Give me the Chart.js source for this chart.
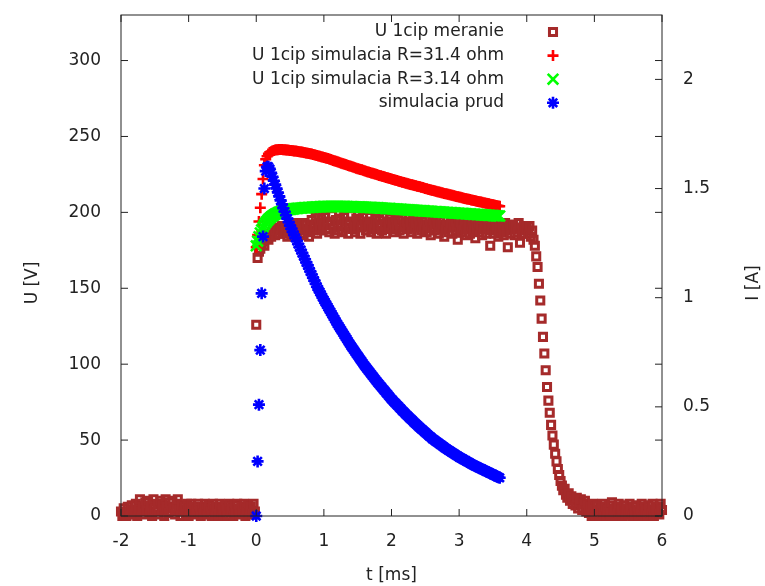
<!DOCTYPE html>
<html>
<head>
<meta charset="utf-8">
<script src="https://cdn.jsdelivr.net/npm/chart.js@4.4.0/dist/chart.umd.min.js"></script>
<style>
  body { margin: 0; background: #fff; }
</style>
</head>
<body>
<canvas id="myChart" width="765" height="586"></canvas>
<script>
// sampling grid [ms]
let measStart = -2, measStep = 0.02;
let simStart = 0, simStep = 0.02;

// U 1cip meranie [V], from -2 ms to 6 ms
let measU = [
  3,0,5,2,0,6,3,1,7,4,
  2,8,0,5,11,3,6,1,9,4,
  10,2,7,0,11,5,3,8,1,10,
  4,7,0,11,6,2,9,3,10,5,
  1,8,11,4,0,7,3,6,2,8,
  0,5,8,2,6,1,4,8,3,0,
  6,2,8,5,1,7,3,0,8,4,
  2,6,0,8,3,5,1,7,4,0,
  8,3,5,0,7,2,8,4,1,6,
  3,8,0,5,7,2,6,1,8,3,
  126,170,174,176,179,181,178,183,185,182,186,184,187,189,185,188,190,186,189,191,187,
  186,190,184,188,192,185,189,187,193,184,
  188,191,186,193,185,189,192,187,184,190,
  195,188,191,197,186,193,190,196,188,192,
  197,189,194,187,192,198,190,186,195,191,
  188,196,192,187,197,190,194,186,192,198,
  189,193,187,196,191,195,186,190,197,192,
  188,194,191,197,187,193,189,196,186,192,
  195,190,188,197,192,186,194,191,196,189,
  193,187,197,190,195,188,192,196,186,191,
  194,189,197,192,187,195,190,193,186,196,
  191,188,194,190,196,187,192,195,185,190,
  193,188,195,191,186,194,189,192,184,190,
  195,187,191,193,186,190,194,188,182,191,
  193,187,190,195,185,189,192,186,191,194,
  188,183,190,193,187,191,185,189,194,186,
  190,192,178,188,193,186,191,189,184,192,
  187,190,185,193,188,177,191,186,189,192,
  185,190,187,193,180,189,186,191,188,
  190,186,191,184,188,182,178,171,164,153,
  142,130,118,107,96,85,76,68,60,53,
  47,41,36,31,27,23,20,17,18,14,
  12,15,10,13,8,11,7,12,5,9,
  11,4,8,10,3,7,
  2,6,0,8,4,1,7,3,0,5,
  8,2,6,0,4,7,1,9,3,5,
  0,6,8,2,4,0,7,3,5,1,
  8,4,0,6,2,7,3,0,5,8,
  1,6,3,0,7,4,2,8,0,5,
  3,6,1,8,4
];

// U 1cip simulacia R=31.4 ohm [V], from 0 to 3.6 ms
let simU31 = [
  177,185,194,203,212,222,231,235,237,238.5,239.5,
  240.0,240.4,240.7,241.0,241.2,241.3,241.4,241.4,241.4,241.3,
  241.2,241.1,241.0,240.9,
  240.8,240.7,240.6,240.5,240.4,240.3,
  240.1,240.0,239.8,239.7,239.5,
  239.3,239.1,239.0,238.8,238.6,
  238.4,238.1,237.9,237.6,237.4,
  237.2,236.9,236.7,236.4,236.2,
  235.9,235.6,235.4,235.1,234.8,
  234.5,234.2,233.9,233.6,233.3,
  233.0,232.7,232.4,232.1,231.8,
  231.5,231.2,230.9,230.6,230.3,
  230.0,229.7,229.4,229.1,228.8,
  228.5,228.2,228.0,227.7,227.4,
  227.1,226.8,226.6,226.3,226.0,
  225.7,225.4,225.2,224.9,224.6,
  224.3,224.1,223.8,223.6,223.3,
  223.0,222.8,222.5,222.3,222.0,
  221.7,221.5,221.2,221.0,220.7,
  220.4,220.2,219.9,219.7,219.4,
  219.2,218.9,218.7,218.4,218.2,
  218.0,217.7,217.5,217.2,217.0,
  216.8,216.5,216.3,216.0,215.8,
  215.6,215.3,215.1,214.8,214.6,
  214.4,214.1,213.9,213.6,213.4,
  213.2,213.0,212.7,212.5,212.3,
  212.1,211.9,211.6,211.4,211.2,
  211.0,210.8,210.5,210.3,210.1,
  209.9,209.7,209.4,209.2,209.0,
  208.8,208.6,208.4,208.2,208.0,
  207.8,207.6,207.4,207.2,207.0,
  206.8,206.6,206.4,206.2,206.0,
  205.8,205.6,205.4,205.2,205.0,
  204.8,204.6,204.4,204.2,204.0
];

// U 1cip simulacia R=3.14 ohm [V], from 0 to 3.6 ms
let simU3 = [
  178,181,184,186.5,188.5,190.3,191.8,193.1,194.3,195.3,196.2,
  197.0,197.7,198.3,198.8,199.3,199.7,200.1,200.5,200.9,201.2,
  201.4,201.6,201.7,201.9,202.0,
  202.1,202.2,202.4,202.5,202.6,
  202.7,202.8,202.8,202.9,203.0,
  203.1,203.1,203.2,203.2,203.3,
  203.4,203.4,203.5,203.5,203.6,
  203.6,203.7,203.7,203.8,203.8,
  203.8,203.9,203.9,203.9,203.9,
  203.9,203.9,203.9,203.9,203.9,
  203.9,203.9,203.8,203.8,203.8,
  203.8,203.8,203.7,203.7,203.7,
  203.7,203.7,203.6,203.6,203.6,
  203.6,203.5,203.5,203.4,203.4,
  203.4,203.3,203.3,203.2,203.2,
  203.2,203.1,203.1,203.0,203.0,
  202.9,202.9,202.8,202.8,202.7,
  202.6,202.6,202.5,202.5,202.4,
  202.3,202.3,202.2,202.2,202.1,
  202.0,202.0,201.9,201.9,201.8,
  201.7,201.7,201.6,201.6,201.5,
  201.4,201.4,201.3,201.3,201.2,
  201.1,201.1,201.0,201.0,200.9,
  200.8,200.8,200.7,200.7,200.6,
  200.5,200.5,200.4,200.4,200.3,
  200.2,200.2,200.1,200.1,200.0,
  199.9,199.9,199.8,199.8,199.7,
  199.6,199.6,199.5,199.5,199.4,
  199.3,199.3,199.2,199.2,199.1,
  199.0,199.0,198.9,198.9,198.8,
  198.7,198.7,198.6,198.6,198.5,
  198.4,198.4,198.3,198.3,198.2,
  198.1,198.1,198.0,198.0,197.9,
  197.8,197.8,197.7,197.7,197.6
];

// simulacia prud [A], from 0 to 3.6 ms
let simI = [
  0,0.25,0.51,0.76,1.02,1.28,1.50,1.58,1.60,1.60,1.59,
  1.572,1.554,1.536,1.518,1.500,1.482,1.464,1.446,1.428,1.410,
  1.394,1.378,1.362,1.346,1.330,
  1.316,1.302,1.288,1.274,1.260,
  1.246,1.232,1.218,1.204,1.190,
  1.176,1.162,1.148,1.134,1.120,
  1.106,1.092,1.078,1.064,1.050,
  1.038,1.026,1.014,1.002,0.990,
  0.979,0.968,0.957,0.946,0.935,0.924,0.913,0.902,0.891,0.880,
  0.870,0.860,0.850,0.840,0.830,0.820,0.810,0.800,0.790,0.780,
  0.771,0.762,0.753,0.744,0.735,0.726,0.717,0.708,0.699,0.690,
  0.682,0.674,0.666,0.658,0.650,0.642,0.634,0.626,0.618,0.610,
  0.603,0.595,0.588,0.580,0.573,0.565,0.558,0.550,0.543,0.535,
  0.529,0.522,0.516,0.509,0.503,0.496,0.490,0.483,0.477,0.470,
  0.464,0.458,0.452,0.446,0.440,0.434,0.428,0.422,0.416,0.410,
  0.405,0.399,0.394,0.388,0.383,0.377,0.372,0.366,0.361,0.355,
  0.351,0.346,0.342,0.337,0.333,0.328,0.324,0.319,0.315,0.310,
  0.306,0.302,0.298,0.294,0.290,0.286,0.282,0.278,0.274,0.270,
  0.267,0.263,0.260,0.256,0.253,0.249,0.246,0.242,0.239,0.235,
  0.232,0.229,0.226,0.223,0.220,0.217,0.214,0.211,0.208,0.205,
  0.202,0.199,0.196,0.193,0.190,0.187,0.184,0.181,0.178,0.175
];

let legendNames = ['U 1cip meranie', 'U 1cip simulacia R=31.4 ohm', 'U 1cip simulacia R=3.14 ohm', 'simulacia prud'];
let tTicks = [-2, -1, 0, 1, 2, 3, 4, 5, 6];
let uTicks = [0, 50, 100, 150, 200, 250, 300];
let iTicks = [0, 0.5, 1, 1.5, 2];

function toPoints(vals, start, step) {
  return vals.map(function(v, i) {
    return { x: Math.round((start + i * step) * 1000) / 1000, y: v };
  });
}

let textColor = '#222';
let font = { family: 'DejaVu Sans', size: 17 };

let datasets = [
  { label: legendNames[0], data: toPoints(measU, measStart, measStep), yAxisID: 'y',
    pointStyle: 'rect', pointRadius: 5, borderWidth: 3, borderColor: '#a52a2a',
    backgroundColor: 'rgba(0,0,0,0)', order: 4 },
  { label: legendNames[1], data: toPoints(simU31, simStart, simStep), yAxisID: 'y',
    pointStyle: 'cross', pointRadius: 5.5, borderWidth: 2.6, borderColor: '#ff0000',
    backgroundColor: '#ff0000', order: 3 },
  { label: legendNames[2], data: toPoints(simU3, simStart, simStep), yAxisID: 'y',
    pointStyle: 'crossRot', pointRadius: 7.5, borderWidth: 2.6, borderColor: '#00ff00',
    backgroundColor: '#00ff00', order: 2 },
  { label: legendNames[3], data: toPoints(simI, simStart, simStep), yAxisID: 'y2',
    pointStyle: 'star', pointRadius: 6, borderWidth: 2.6, borderColor: '#0000ff',
    backgroundColor: '#0000ff', order: 1 }
];
datasets.forEach(function(d) { d.showLine = false; d.clip = false; d.pointHoverRadius = d.pointRadius; });

function setTicks(list) {
  return function(scale) { scale.ticks = list.map(function(v) { return { value: v }; }); };
}

function noPad(s) { s.paddingTop = 0; s.paddingBottom = 0; s.paddingLeft = 0; s.paddingRight = 0; }

let frame = {
  id: 'frame',
  afterDatasetsDraw: function(chart) {
    let ctx = chart.ctx, a = chart.chartArea;
    let sx = chart.scales.x, sy = chart.scales.y, sy2 = chart.scales.y2;
    let tl = 7;
    ctx.save();
    ctx.strokeStyle = '#222';
    ctx.lineWidth = 1;
    ctx.strokeRect(a.left, a.top, a.right - a.left, a.bottom - a.top);
    ctx.beginPath();
    sx.ticks.forEach(function(t) {
      let px = sx.getPixelForValue(t.value);
      ctx.moveTo(px, a.bottom); ctx.lineTo(px, a.bottom - tl);
      ctx.moveTo(px, a.top); ctx.lineTo(px, a.top + tl);
    });
    sy.ticks.forEach(function(t) {
      let py = sy.getPixelForValue(t.value);
      ctx.moveTo(a.left, py); ctx.lineTo(a.left + tl, py);
      ctx.moveTo(a.right, py); ctx.lineTo(a.right - tl, py);
    });
    sy2.ticks.forEach(function(t) {
      let py = sy2.getPixelForValue(t.value);
      ctx.moveTo(a.right, py); ctx.lineTo(a.right - tl, py);
    });
    ctx.stroke();

    // legend, text right aligned, marker on the right
    ctx.font = font.size + 'px ' + font.family;
    ctx.textAlign = 'right';
    ctx.textBaseline = 'middle';
    chart.data.datasets.forEach(function(d, i) {
      let ly = 32 + i * 23.6;
      ctx.fillStyle = textColor;
      ctx.fillText(d.label, 504, ly);
      ctx.strokeStyle = d.borderColor;
      ctx.fillStyle = d.backgroundColor;
      ctx.lineWidth = d.borderWidth;
      Chart.helpers.drawPoint(ctx, { pointStyle: d.pointStyle, radius: d.pointRadius, rotation: 0, borderWidth: d.borderWidth }, 553, ly);
    });

    // axis titles on both sides, reading upwards
    ctx.fillStyle = textColor;
    ctx.textAlign = 'center';
    [[33, 'U [V]'], [754, 'I [A]']].forEach(function(t) {
      ctx.save();
      ctx.translate(t[0], 283);
      ctx.rotate(-Math.PI / 2);
      ctx.fillText(t[1], 0, 0);
      ctx.restore();
    });
    ctx.restore();
  }
};

let ctx = document.getElementById('myChart');
let chart = new Chart(ctx, {
  type: 'scatter',
  data: { datasets: datasets },
  options: {
    responsive: false,
    animation: false,
    devicePixelRatio: 1,
    layout: { padding: { top: 15, left: 0, right: 0, bottom: 0 } },
    plugins: { legend: { display: false }, tooltip: { enabled: false } },
    scales: {
      x: {
        type: 'linear', min: -2, max: 6,
        afterBuildTicks: setTicks(tTicks),
        afterFit: function(s) { s.height = 70; noPad(s); },
        grid: { display: false, drawTicks: false },
        border: { display: false },
        ticks: { font: font, color: textColor, padding: 15, callback: function(v) { return String(v); } },
        title: { display: true, text: 't [ms]', font: font, color: textColor, padding: { top: 0, bottom: 0 } }
      },
      y: {
        type: 'linear', position: 'left', min: 0, max: 330,
        afterBuildTicks: setTicks(uTicks),
        afterFit: function(s) { s.width = 121; noPad(s); },
        grid: { display: false, drawTicks: false },
        border: { display: false },
        ticks: { font: font, color: textColor, padding: 20, callback: function(v) { return String(v); } }
      },
      y2: {
        type: 'linear', position: 'right', min: 0, max: 2.295,
        afterBuildTicks: setTicks(iTicks),
        afterFit: function(s) { s.width = 103; noPad(s); },
        grid: { display: false, drawTicks: false },
        border: { display: false },
        ticks: { font: font, color: textColor, padding: 21, callback: function(v) { return String(v); } }
      }
    }
  },
  plugins: [frame]
});
</script>
</body>
</html>
